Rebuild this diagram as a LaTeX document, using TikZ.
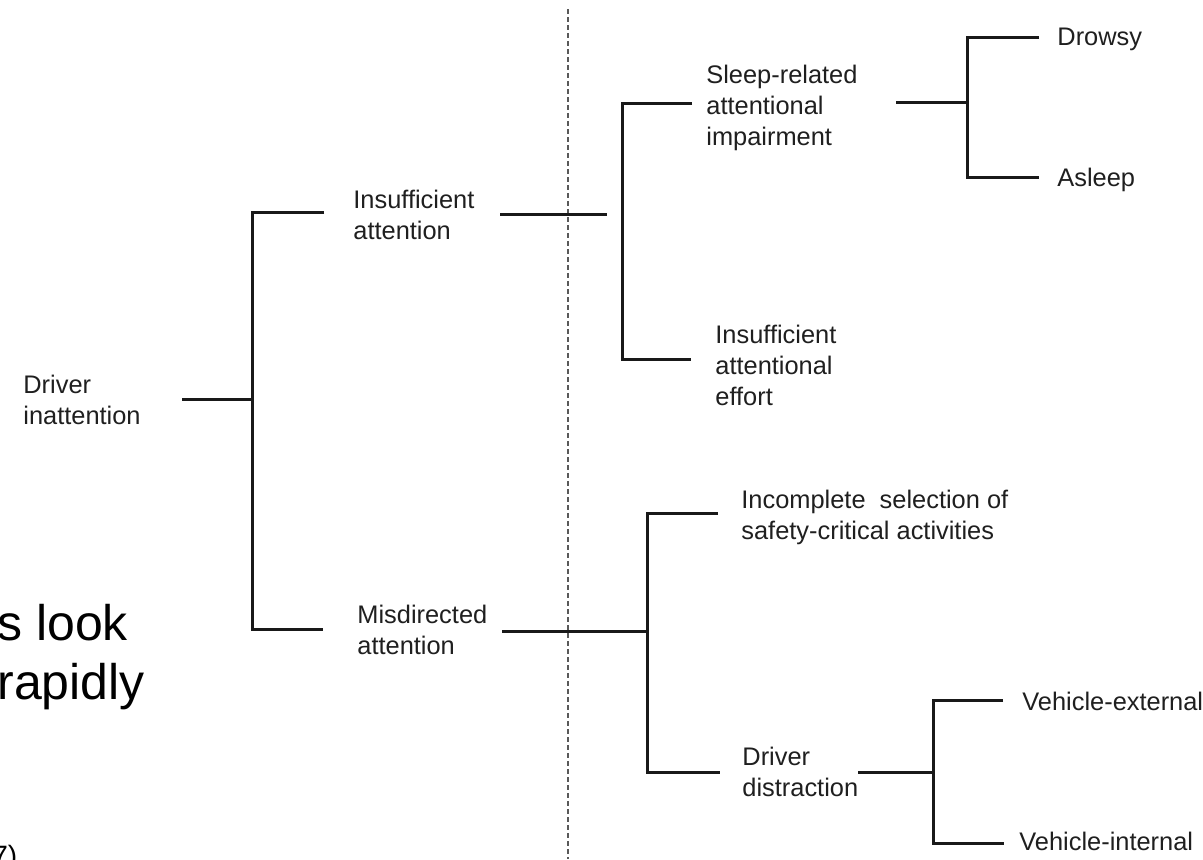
\documentclass[tikz,border=0pt]{standalone}
\usepackage{fontspec}
\setmainfont{Liberation Sans}
\tikzset{
  lbl/.style={anchor=west, inner sep=0pt, align=left, text=black!88, font=\fontsize{12.7}{15.5}\selectfont},
  big/.style={anchor=base west, inner sep=0pt, font=\fontsize{25}{30}\selectfont},
  branch/.style={line width=1.5pt, black!90},
  divider/.style={line width=0.6pt, black!65, dash pattern=on 2.5pt off 1.5pt}
}
\begin{document}
\begin{tikzpicture}[x=0.5pt, y=-0.5pt]
\useasboundingbox (0,0) rectangle (1203,859);
\clip (0,0) rectangle (1203,859);

%Trennlinie
    \coordinate (divtop) at (568,9);
    \coordinate (divbot) at (568,859);
    \draw[divider] (divtop) -- (divbot);

%Begriffe
    \node[lbl] (drv) at (23,400) {Driver\\inattention};
    \node[lbl] (ins) at (353,215) {Insufficient\\attention};
    \node[lbl] (mis) at (357,630) {Misdirected\\attention};
    \node[lbl] (slp) at (706,108) {Sleep-related\\attentional\\impairment};
    \node[lbl] (eff) at (715,365) {Insufficient\\attentional\\effort};
    \node[lbl] (inc) at (741,517) {Incomplete~ selection of\\safety-critical activities};
    \node[lbl] (dst) at (742,772) {Driver\\distraction};
    \node[lbl] (drw) at (1057,39) {Drowsy};
    \node[lbl] (asl) at (1057,180) {Asleep};
    \node[lbl] (ext) at (1022,701) {Vehicle-external};
    \node[lbl] (int) at (1019,841) {Vehicle-internal};

%Reste der Folie
    \node[big] (frag1) at (-3,640) {s look};
    \node[big] (frag2) at (-3,699) {rapidly};
    \node[anchor=north west, inner sep=0pt, font=\fontsize{14}{16}\selectfont]
        (frag3) at (-8,845) {7)};

%Verzweigungen
    %Ebene 1
    \coordinate (drvE) at (182,399);
    \coordinate (j1) at (252,399);
    \coordinate (insW) at (324,212);
    \coordinate (misW) at (323,629);
    \draw[branch] (drvE) -- (j1);
    \draw[branch] (insW) -| (j1) |- (misW);

    %Ebene 2
    \coordinate (insE) at (500,214);
    \coordinate (insJ) at (607,214);
    \coordinate (insV) at (622,214);
    \coordinate (slpW) at (692,103);
    \coordinate (effW) at (691,359);
    \draw[branch] (insE) -- (insJ);
    \draw[branch] (slpW) -| (insV) |- (effW);

    \coordinate (misE) at (502,631);
    \coordinate (misJ) at (647,631);
    \coordinate (incW) at (718,513);
    \coordinate (dstW) at (720,772);
    \draw[branch] (misE) -- (misJ);
    \draw[branch] (incW) -| (misJ) |- (dstW);

    %Ebene 3
    \coordinate (slpE) at (896,102);
    \coordinate (slpJ) at (967,102);
    \coordinate (drwW) at (1039,37);
    \coordinate (aslW) at (1039,177);
    \draw[branch] (slpE) -- (slpJ);
    \draw[branch] (drwW) -| (slpJ) |- (aslW);

    \coordinate (dstE) at (858,772);
    \coordinate (dstJ) at (933,772);
    \coordinate (extW) at (1003,700);
    \coordinate (intW) at (1004,843);
    \draw[branch] (dstE) -- (dstJ);
    \draw[branch] (extW) -| (dstJ) |- (intW);

\end{tikzpicture}
\end{document}
